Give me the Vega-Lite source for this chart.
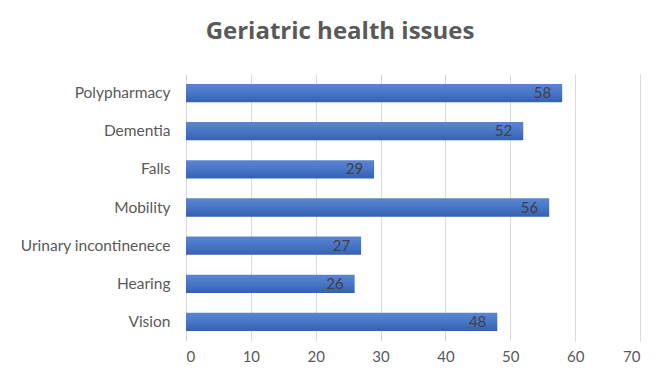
{
  "$schema": "https://vega.github.io/schema/vega-lite/v6.json",
  "width": 454,
  "height": 267,
  "autosize": {"type": "none"},
  "padding": {"left": 186, "top": 74, "right": 21, "bottom": 32},
  "background": "white",
  "title": {
    "text": "Geriatric health issues",
    "font": "Open Sans",
    "fontSize": 24,
    "fontWeight": "bold",
    "color": "#595959",
    "anchor": "middle",
    "dx": -73,
    "offset": 30
  },
  "data": {
    "values": [
      {"issue": "Polypharmacy", "value": 58},
      {"issue": "Dementia", "value": 52},
      {"issue": "Falls", "value": 29},
      {"issue": "Mobility", "value": 56},
      {"issue": "Urinary incontinenece", "value": 27},
      {"issue": "Hearing", "value": 26},
      {"issue": "Vision", "value": 48}
    ]
  },
  "encoding": {
    "y": {
      "field": "issue",
      "type": "nominal",
      "sort": null,
      "scale": {"paddingInner": 0.52, "paddingOuter": 0.26},
      "axis": {
        "title": null,
        "domain": false,
        "ticks": false,
        "labelFont": "Lato",
        "labelFontSize": 15.5,
        "labelColor": "#595959",
        "labelPadding": 16
      }
    },
    "x": {
      "field": "value",
      "type": "quantitative",
      "scale": {"domain": [0, 70], "nice": false},
      "axis": {
        "title": null,
        "values": [0, 10, 20, 30, 40, 50, 60, 70],
        "domain": false,
        "ticks": false,
        "grid": true,
        "gridColor": "#d9d9d9",
        "gridWidth": 1,
        "labelFont": "Lato",
        "labelFontSize": 15,
        "labelColor": "#595959",
        "labelPadding": 8
      }
    }
  },
  "layer": [
    {
      "mark": {
        "type": "bar",
        "color": {
          "gradient": "linear",
          "x1": 0, "y1": 0, "x2": 0, "y2": 1,
          "stops": [
            {"offset": 0, "color": "#5a85d0"},
            {"offset": 0.45, "color": "#4a78c8"},
            {"offset": 1, "color": "#3560b0"}
          ]
        }
      }
    },
    {
      "mark": {
        "type": "text",
        "align": "right",
        "baseline": "middle",
        "dx": -11,
        "font": "Lato",
        "fontSize": 15,
        "color": "#404040"
      },
      "encoding": {"text": {"field": "value", "type": "quantitative"}}
    }
  ],
  "config": {"view": {"stroke": null}}
}
